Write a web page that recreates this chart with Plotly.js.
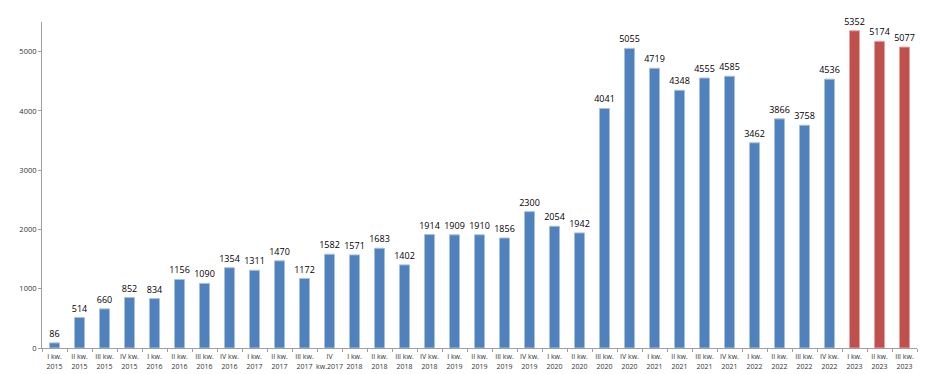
<!DOCTYPE html>
<html><head><meta charset="utf-8">
<script src="https://cdn.plot.ly/plotly-3.0.1.min.js"></script>
<style>html,body{margin:0;padding:0;background:#fff}#chart{width:948px;height:374px}</style>
</head><body><div id="chart"></div>
<script>
const categories = [
 "I kw.<br>2015","II kw.<br>2015","III kw.<br>2015","IV kw.<br>2015",
 "I kw.<br>2016","II kw.<br>2016","III kw.<br>2016","IV kw.<br>2016",
 "I kw.<br>2017","II kw.<br>2017","III kw.<br>2017","IV<br>kw.2017",
 "I kw.<br>2018","II kw.<br>2018","III kw.<br>2018","IV kw.<br>2018",
 "I kw.<br>2019","II kw.<br>2019","III kw.<br>2019","IV kw.<br>2019",
 "I kw.<br>2020","II kw.<br>2020","III kw.<br>2020","IV kw.<br>2020",
 "I kw.<br>2021","II kw.<br>2021","III kw.<br>2021","IV kw.<br>2021",
 "I kw.<br>2022","II kw.<br>2022","III kw.<br>2022","IV kw.<br>2022",
 "I kw.<br>2023","II kw.<br>2023","III kw.<br>2023"
];
const values = [86,514,660,852,834,1156,1090,1354,1311,1470,1172,1582,1571,1683,1402,1914,
 1909,1910,1856,2300,2054,1942,4041,5055,4719,4348,4555,4585,3462,3866,3758,4536,5352,5174,5077];
const highlightCount = 3;
const blue = "#4F81BD", red = "#C0504D";
const colors = values.map((v,i)=> i >= values.length - highlightCount ? red : blue);
const lineColors = values.map((v,i)=> i >= values.length - highlightCount ? "#E6A3A1" : "#A7C0DE");

Plotly.newPlot("chart", [{
  type: "bar",
  x: categories,
  y: values,
  text: values.map(String),
  textposition: "outside",
  constraintext: "none",
  cliponaxis: false,
  textfont: {family: "Open Sans, Arial, sans-serif", size: 9, color: "#000"},
  marker: {color: colors, line: {color: lineColors, width: 1}},
  width: 0.4,
  hoverinfo: "x+y"
}], {
  width: 948, height: 374,
  margin: {l: 42, r: 31, t: 22, b: 26},
  paper_bgcolor: "#fff", plot_bgcolor: "#fff",
  showlegend: false,
  xaxis: {
    type: "category",
    tickson: "boundaries",
    ticks: "outside", ticklen: 3, tickcolor: "#A0A0A0",
    showline: true, linecolor: "#A0A0A0", linewidth: 1,
    showgrid: false, tickangle: 0,
    ticklabelstandoff: 2,
    tickfont: {family: "Open Sans, Arial, sans-serif", size: 7, color: "#333"}
  },
  yaxis: {
    range: [0, 5500],
    tickvals: [0,1000,2000,3000,4000,5000],
    ticks: "outside", ticklen: 3, tickcolor: "#A0A0A0",
    showline: true, linecolor: "#A0A0A0", linewidth: 1,
    showgrid: false, zeroline: false,
    tickfont: {family: "Open Sans, Arial, sans-serif", size: 7.5, color: "#333"}
  }
}, {displayModeBar: false, staticPlot: true});
</script></body></html>
